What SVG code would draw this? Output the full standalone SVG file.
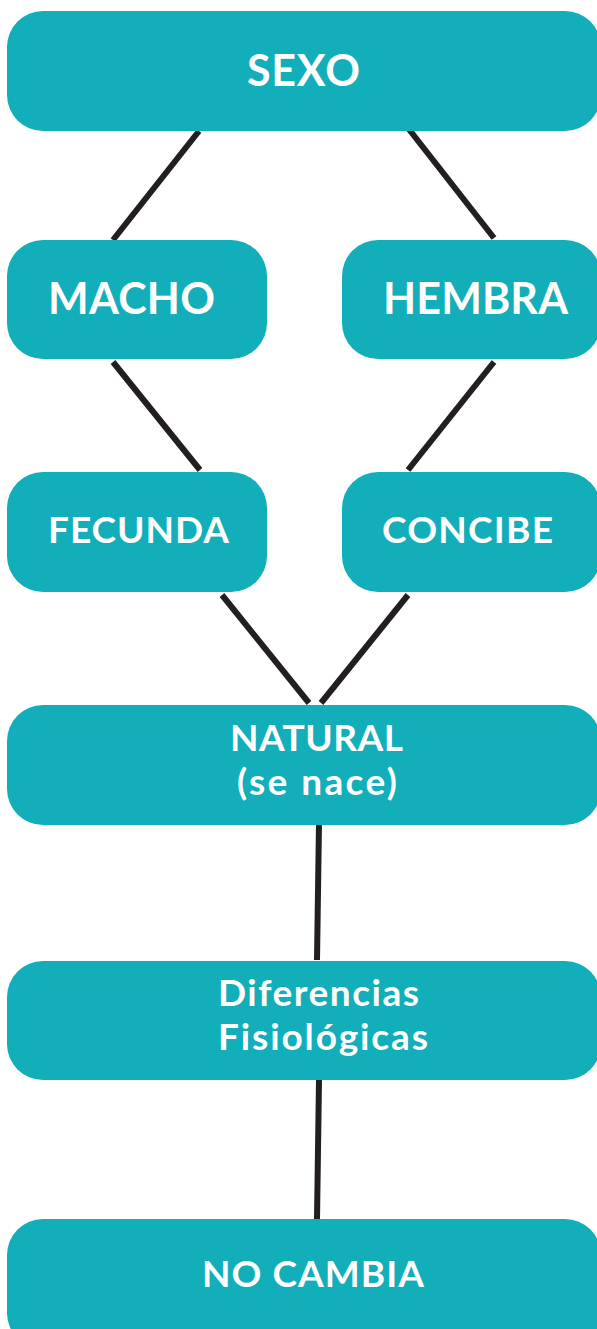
<svg xmlns="http://www.w3.org/2000/svg" width="597" height="1329" viewBox="0 0 597 1329">
<style>
.box{fill:#12AEBA}
.t{font-family:Lato,"Open Sans","Liberation Sans",sans-serif;font-weight:bold;fill:#fff;text-anchor:middle}
.l{font-family:Lato,"Open Sans","Liberation Sans",sans-serif;font-weight:bold;fill:#fff}
.c{stroke:#231F20;stroke-width:6;fill:none}
</style>
<rect width="597" height="1329" fill="#fff"/>
<g id="connectors">
<line class="c" x1="199" y1="131" x2="113" y2="240"/>
<line class="c" x1="408" y1="128" x2="494" y2="238"/>
<line class="c" x1="113" y1="362" x2="200" y2="470"/>
<line class="c" x1="494" y1="362" x2="408" y2="470"/>
<line class="c" x1="222" y1="595" x2="309" y2="703"/>
<line class="c" x1="408" y1="595" x2="321" y2="703"/>
<line class="c" x1="319" y1="823" x2="317" y2="960"/>
<line class="c" x1="319" y1="1080" x2="317" y2="1219"/>
</g>
<g id="sexo"><rect class="box" x="7" y="11" width="594" height="120" rx="36"/><text class="t" x="303.5" y="86" font-size="43" textLength="113">SEXO</text></g>
<g id="macho"><rect class="box" x="7" y="240" width="260" height="119" rx="36"/><text class="t" x="131.5" y="314" font-size="43" textLength="167">MACHO</text></g>
<g id="hembra"><rect class="box" x="342" y="240" width="259" height="119" rx="36"/><text class="t" x="475.5" y="314" font-size="43" textLength="185">HEMBRA</text></g>
<g id="fecunda"><rect class="box" x="7" y="472" width="260" height="120" rx="36"/><text class="t" x="138.5" y="543" font-size="37" textLength="181">FECUNDA</text></g>
<g id="concibe"><rect class="box" x="342" y="472" width="259" height="120" rx="36"/><text class="t" x="467.5" y="543" font-size="37" textLength="171">CONCIBE</text></g>
<g id="natural"><rect class="box" x="7" y="705" width="594" height="120" rx="36"/><text class="t" x="316.5" y="751" font-size="37" textLength="173">NATURAL</text><text class="t" x="317" y="795" font-size="37" textLength="160">(se nace)</text></g>
<g id="diferencias"><rect class="box" x="7" y="961" width="594" height="119" rx="36"/><text class="l" x="218" y="1006" font-size="37" textLength="201">Diferencias</text><text class="l" x="218" y="1050" font-size="37" textLength="210">Fisiológicas</text></g>
<g id="nocambia"><rect class="box" x="7" y="1219" width="594" height="130" rx="36"/><text class="t" x="313" y="1287" font-size="37" textLength="222">NO CAMBIA</text></g>
</svg>
